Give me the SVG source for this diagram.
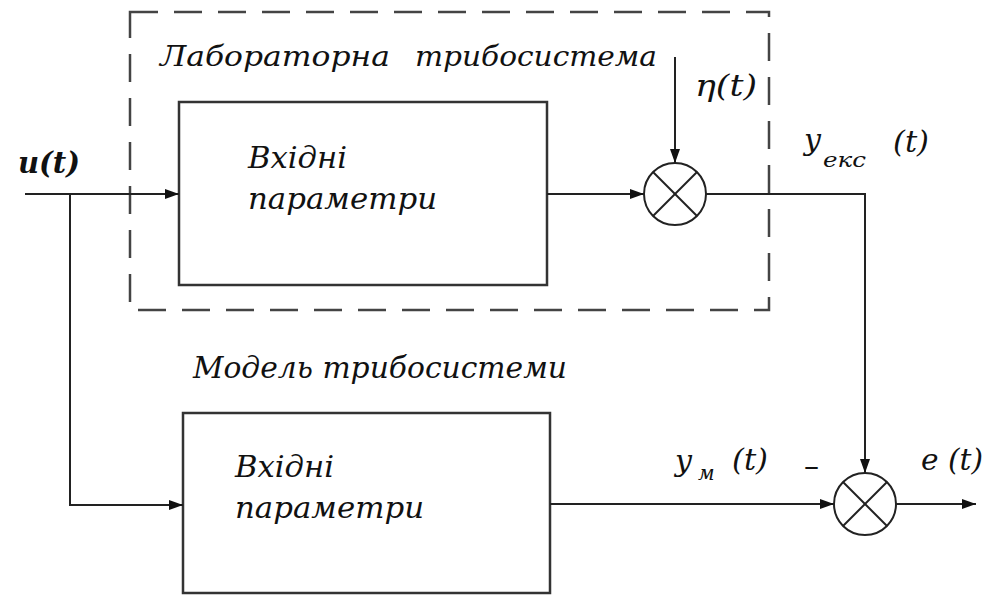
<svg xmlns="http://www.w3.org/2000/svg" width="989" height="596" viewBox="0 0 989 596">
<style>
.ln{stroke:#222;stroke-width:2;fill:none}
.box{stroke:#333;stroke-width:2.5;fill:#fff}
.dash{stroke:#444;stroke-width:2.5;fill:none;stroke-dasharray:28,16}
</style>
<defs>
<marker id="ah" viewBox="0 0 14 10" refX="14" refY="5" markerWidth="14" markerHeight="10" markerUnits="userSpaceOnUse" orient="auto">
<path d="M0,0 L14,5 L0,10 z" fill="#111"/>
</marker>
</defs>
<rect width="989" height="596" fill="#fff"/>
<g id="lab-system">
<rect class="dash" x="130" y="12" width="639" height="298"/>
<text x="160" y="66" font-family="DejaVu Serif, Liberation Serif, serif" font-style="italic" font-size="28" fill="#111" textLength="230" lengthAdjust="spacingAndGlyphs">Лабораторна</text>
<text x="415" y="66" font-family="DejaVu Serif, Liberation Serif, serif" font-style="italic" font-size="28" fill="#111" textLength="242" lengthAdjust="spacingAndGlyphs">трибосистема</text>
</g>
<g id="block-lab">
<rect class="box" x="179" y="102" width="368" height="183"/>
<text x="248" y="168" font-family="DejaVu Serif, Liberation Serif, serif" font-style="italic" font-size="30" fill="#111" textLength="99" lengthAdjust="spacingAndGlyphs">Вхідні</text>
<text x="248" y="209" font-family="DejaVu Serif, Liberation Serif, serif" font-style="italic" font-size="30" fill="#111" textLength="189" lengthAdjust="spacingAndGlyphs">параметри</text>
</g>
<g id="sum-lab">
<circle class="ln" cx="675" cy="194" r="31"/>
<line class="ln" x1="653" y1="172" x2="697" y2="216"/>
<line class="ln" x1="697" y1="172" x2="653" y2="216"/>
</g>
<g id="model-label">
<text x="193" y="378" font-family="DejaVu Serif, Liberation Serif, serif" font-style="italic" font-size="29" fill="#111" textLength="374" lengthAdjust="spacingAndGlyphs">Модель трибосистеми</text>
</g>
<g id="block-model">
<rect class="box" x="183" y="413" width="367" height="180"/>
<text x="235" y="477" font-family="DejaVu Serif, Liberation Serif, serif" font-style="italic" font-size="30" fill="#111" textLength="99" lengthAdjust="spacingAndGlyphs">Вхідні</text>
<text x="235" y="518" font-family="DejaVu Serif, Liberation Serif, serif" font-style="italic" font-size="30" fill="#111" textLength="189" lengthAdjust="spacingAndGlyphs">параметри</text>
</g>
<g id="sum-err">
<circle class="ln" cx="865" cy="504" r="31"/>
<line class="ln" x1="843" y1="482" x2="887" y2="526"/>
<line class="ln" x1="887" y1="482" x2="843" y2="526"/>
</g>
<g id="signal-labels" fill="#111" font-size="30" font-family="DejaVu Serif, Liberation Serif, serif" font-style="italic">
<text x="18" y="173" font-weight="bold" textLength="62" lengthAdjust="spacingAndGlyphs">u(t)</text>
<text x="695" y="96" textLength="62" lengthAdjust="spacingAndGlyphs">η(t)</text>
<text x="804" y="150">y</text>
<text x="823" y="167" font-size="20" textLength="43" lengthAdjust="spacingAndGlyphs">екс</text>
<text x="893" y="152" textLength="36" lengthAdjust="spacingAndGlyphs">(t)</text>
<text x="675" y="471">y</text>
<text x="698" y="480" font-size="20">м</text>
<text x="732" y="470" textLength="36" lengthAdjust="spacingAndGlyphs">(t)</text>
<text x="804" y="476" font-style="normal">–</text>
<text x="921" y="470" textLength="62" lengthAdjust="spacingAndGlyphs">e (t)</text>
</g>
<g id="connectors">
<polyline class="ln" points="25,194 179,194" marker-end="url(#ah)"/>
<polyline class="ln" points="70,194 70,505 183,505" marker-end="url(#ah)"/>
<polyline class="ln" points="547,194 644,194" marker-end="url(#ah)"/>
<polyline class="ln" points="675,57 675,163" marker-end="url(#ah)"/>
<polyline class="ln" points="706,194 865,194 865,473" marker-end="url(#ah)"/>
<polyline class="ln" points="550,504 834,504" marker-end="url(#ah)"/>
<polyline class="ln" points="896,504 976,504" marker-end="url(#ah)"/>
</g>
</svg>
